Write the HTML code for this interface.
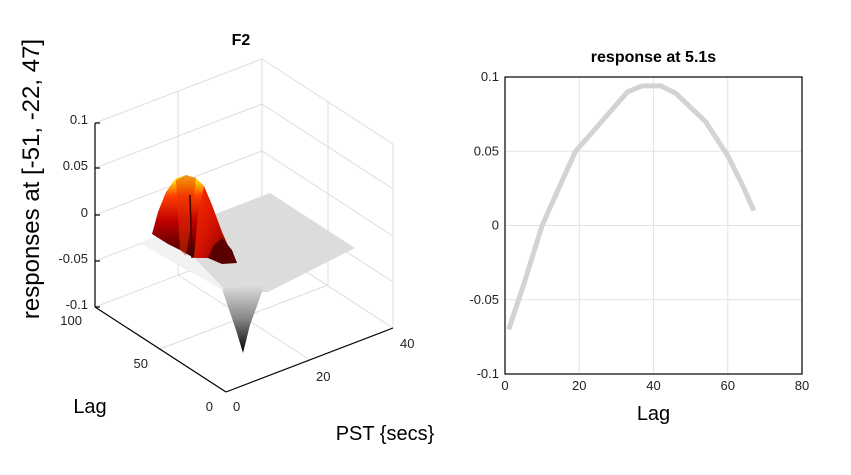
<!DOCTYPE html>
<html><head><meta charset="utf-8"><style>
body{margin:0;background:#fff;}
svg{display:block;font-family:"Liberation Sans",sans-serif;}
</style></head><body>
<svg id="fig" width="851" height="475" viewBox="0 0 851 475">
<defs>
<linearGradient id="hot" x1="0" y1="1" x2="0" y2="0">
<stop offset="0" stop-color="#3a0000"/><stop offset="0.45" stop-color="#c00000"/><stop offset="0.75" stop-color="#ff4000"/><stop offset="0.92" stop-color="#ffd000"/><stop offset="1" stop-color="#ffff70"/></linearGradient>
<linearGradient id="hot2" x1="0" y1="0" x2="1" y2="1">
<stop offset="0" stop-color="#ff3000"/><stop offset="0.5" stop-color="#d01000"/><stop offset="1" stop-color="#500000"/></linearGradient>
<linearGradient id="dip" x1="0" y1="0" x2="0" y2="1">
<stop offset="0" stop-color="#e0e0e0"/><stop offset="0.5" stop-color="#888"/><stop offset="1" stop-color="#000"/></linearGradient>
</defs>
<g>
<text x="241" y="45" font-size="16" font-weight="bold" text-anchor="middle">F2</text>
<g stroke="#ddd" stroke-width="1" fill="none">
<line x1="95" y1="123" x2="262" y2="59"/><line x1="262" y1="59" x2="393" y2="144"/>
<line x1="262" y1="59" x2="262" y2="243"/><line x1="393" y1="144" x2="393" y2="328"/>
<line x1="178" y1="91" x2="178" y2="275"/><line x1="328" y1="101" x2="328" y2="285"/>
<line x1="95" y1="168" x2="262" y2="104"/><line x1="95" y1="215" x2="262" y2="151"/><line x1="95" y1="261" x2="262" y2="197"/><line x1="95" y1="307" x2="262" y2="243"/>
<line x1="262" y1="104" x2="393" y2="189"/><line x1="262" y1="151" x2="393" y2="236"/><line x1="262" y1="197" x2="393" y2="282"/><line x1="262" y1="243" x2="393" y2="328"/>
<line x1="160" y1="349" x2="328" y2="285"/><line x1="178" y1="275" x2="310" y2="360"/>
</g>
<g>
<polygon points="140,243 270,193 355,248 268,292 227,292" fill="#dcdcdc"/>
<polygon points="140,243 170,232 227,292 180,265" fill="#f2f2f2"/>
<polygon points="222,289 265,284 250,325 243,353 236,330" fill="url(#dip)"/>
<polygon points="152,234 158,212 166,192 176,178 186,175 196,178 204,186 200,210 194,258 180,250 168,244" fill="url(#hot)"/>
<polygon points="176,180 186,175 196,178 190,230 186,256 180,250" fill="#e83000" opacity="0.5"/>
<polygon points="194,258 198,215 204,186 212,205 222,232 230,250 237,263 225,262 210,258" fill="url(#hot2)"/>
<polygon points="208,258 214,245 222,238 232,250 237,263 222,264" fill="#5a0000"/>
<line x1="190" y1="195" x2="192" y2="258" stroke="#400000" stroke-width="1.5"/>
</g>
<g stroke="#000" stroke-width="1.2" fill="none">
<line x1="95" y1="123" x2="95" y2="307"/>
<line x1="95" y1="307" x2="226" y2="392"/><line x1="226" y1="392" x2="393" y2="328"/>
<line x1="95" y1="123" x2="100" y2="123"/><line x1="95" y1="168" x2="100" y2="168"/><line x1="95" y1="215" x2="100" y2="215"/><line x1="95" y1="261" x2="100" y2="261"/><line x1="95" y1="307" x2="100" y2="307"/>
</g>
<g font-size="13" fill="#222">
<text x="88" y="124" text-anchor="end">0.1</text><text x="88" y="170" text-anchor="end">0.05</text><text x="88" y="217" text-anchor="end">0</text><text x="88" y="263" text-anchor="end">-0.05</text><text x="88" y="309" text-anchor="end">-0.1</text>
<text x="82" y="325" text-anchor="end">100</text><text x="148" y="368" text-anchor="end">50</text><text x="213" y="411" text-anchor="end">0</text>
<text x="233" y="411">0</text><text x="316" y="381">20</text><text x="400" y="348">40</text>
</g>
<text x="90" y="413" font-size="20" text-anchor="middle">Lag</text>
<text x="385" y="440" font-size="20" text-anchor="middle">PST {secs}</text>
<text transform="translate(39,179) rotate(-90)" font-size="24" text-anchor="middle">responses at [-51, -22, 47]</text>
</g>
<g id="right"></g>
</svg>
<script>
const lags=[1,5,10,15,19,25,33,37,42,46,54,60,64,67];
const resp=[-0.07,-0.04,0,0.028,0.05,0.067,0.09,0.094,0.094,0.089,0.07,0.047,0.027,0.01];
const xTicks=[0,20,40,60,80];
const yTicks=[-0.1,-0.05,0,0.05,0.1];
const yTickLabels=["-0.1","-0.05","0","0.05","0.1"];
const L=505,R=802,T=77,B=374;
const sx=v=>L+(v-0)/(80-0)*(R-L);
const sy=v=>B-(v+0.1)/0.2*(B-T);
const NS="http://www.w3.org/2000/svg";
const g=document.getElementById('right');
function mk(tag,attrs,text){const e=document.createElementNS(NS,tag);for(const k in attrs)e.setAttribute(k,attrs[k]);if(text!==undefined)e.textContent=text;g.appendChild(e);return e;}
xTicks.forEach(t=>{const e=mk('line',{x1:sx(t),x2:sx(t),y1:T,y2:B,stroke:'#e4e4e4'});


const l=mk('text',{x:sx(t),y:B+16,'font-size':13,'text-anchor':'middle',fill:'#222'},String(t));

});
yTicks.forEach((t,i)=>{const e=mk('line',{x1:L,x2:R,y1:sy(t),y2:sy(t),stroke:'#e4e4e4'});


const l=mk('text',{x:L-6,y:sy(t)+4,'font-size':13,'text-anchor':'end',fill:'#222'},yTickLabels[i]);

});
const box=mk('rect',{x:L,y:T,width:R-L,height:B-T,fill:'none',stroke:'#000','stroke-width':1.2});


const pl=mk('polyline',{points:lags.map((v,i)=>sx(v)+','+sy(resp[i])).join(' '),fill:'none',stroke:'#d3d3d3','stroke-width':5,'stroke-linejoin':'round'});


const tt=mk('text',{x:(L+R)/2,y:62,'font-size':16,'font-weight':'bold','text-anchor':'middle'},'response at 5.1s');


const xl=mk('text',{x:(L+R)/2,y:420,'font-size':20,'text-anchor':'middle'},'Lag');


</script>
</body></html>
